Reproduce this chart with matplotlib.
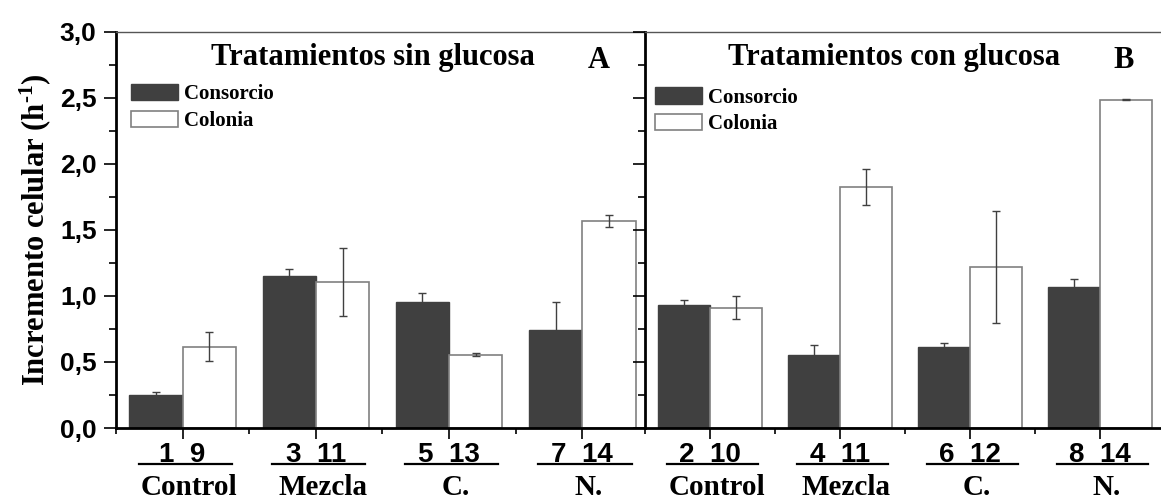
import matplotlib
matplotlib.use('Agg')
import matplotlib.pyplot as plt
import numpy as np
from matplotlib.ticker import MultipleLocator, FuncFormatter
from matplotlib.transforms import blended_transform_factory

# datos
categorias = ['Control', 'Mezcla', 'C.', 'N.']
etiquetas_a = ['1  9', '3  11', '5  13', '7  14']
etiquetas_b = ['2  10', '4  11', '6  12', '8  14']

consorcio_a = [0.25, 1.15, 0.955, 0.74]
consorcio_a_err = [0.025, 0.055, 0.065, 0.215]
colonia_a = [0.615, 1.105, 0.555, 1.565]
colonia_a_err = [0.11, 0.26, 0.01, 0.045]

consorcio_b = [0.93, 0.555, 0.61, 1.07]
consorcio_b_err = [0.04, 0.07, 0.035, 0.057]
colonia_b = [0.91, 1.825, 1.22, 2.485]
colonia_b_err = [0.085, 0.135, 0.425, 0.005]

serif = 'Liberation Serif'
sans = 'Liberation Sans'
plt.rcParams['mathtext.fontset'] = 'custom'
plt.rcParams['mathtext.rm'] = 'Liberation Serif:bold'
plt.rcParams['mathtext.it'] = 'Liberation Serif:bold'
plt.rcParams['mathtext.bf'] = 'Liberation Serif:bold'

fig = plt.figure(figsize=(11.61, 5.0), dpi=100)
W, H = 1161.0, 500.0
ax_a = fig.add_axes([116 / W, 1 - 428 / H, 529 / W, 396.5 / H])
ax_b = fig.add_axes([645 / W, 1 - 428 / H, 516 / W, 396.5 / H])

oscuro = '#404040'
ancho = 0.4


def panel(ax, cons, cons_err, col, col_err, etiquetas, titulo, letra, letra_x, titulo_x, leg_pos):
    x = np.arange(1, len(categorias) + 1)
    b1 = ax.bar(x - ancho / 2, cons, ancho, color=oscuro, edgecolor=oscuro, linewidth=1, label='Consorcio')
    b2 = ax.bar(x + ancho / 2, col, ancho, color='white', edgecolor='#808080', linewidth=1.2, label='Colonia')
    ax.errorbar(x - ancho / 2, cons, yerr=cons_err, fmt='none', ecolor=oscuro, elinewidth=1, capsize=3, capthick=1)
    ax.errorbar(x + ancho / 2, col, yerr=col_err, fmt='none', ecolor=oscuro, elinewidth=1, capsize=3, capthick=1)

    ax.set_xlim(0.5, 4.47)
    ax.set_ylim(0, 3.0)
    ax.yaxis.set_major_locator(MultipleLocator(0.5))
    ax.yaxis.set_minor_locator(MultipleLocator(0.25))
    ax.set_xticks(x)
    ax.set_xticks(x - 0.5, minor=True)
    ax.set_xticklabels(etiquetas, fontfamily=sans, fontweight='bold', fontsize=20)
    ax.tick_params(axis='x', which='major', direction='out', length=8, width=1.2, pad=2)
    ax.tick_params(axis='x', which='minor', direction='out', length=4, width=1.2)
    ax.tick_params(axis='y', which='major', direction='out', length=9, width=1.2, pad=5)
    ax.tick_params(axis='y', which='minor', direction='out', length=5, width=1.2)

    ax.spines['left'].set_linewidth(2)
    ax.spines['bottom'].set_linewidth(2)
    ax.spines['top'].set_linewidth(1)
    ax.spines['top'].set_color('#555555')
    ax.spines['right'].set_visible(False)

    ax.text(titulo_x, 2.745, titulo, fontfamily=serif, fontweight='bold', fontsize=22,
            ha='center', va='baseline')
    ax.text(letra_x, 2.723, letra, fontfamily=serif, fontweight='bold', fontsize=22,
            ha='center', va='baseline')

    trans = blended_transform_factory(ax.transData, ax.transAxes)
    for xi, nombre in zip(x, categorias):
        ax.plot([xi - 0.33, xi + 0.37], [-0.091, -0.091], color='black', lw=1.6,
                transform=trans, clip_on=False)
        ax.text(xi + 0.05, -0.169, nombre, fontfamily=serif, fontweight='bold', fontsize=21,
                ha='center', va='baseline', transform=trans)

    ax.legend(handles=[b1, b2], loc='upper left', bbox_to_anchor=leg_pos, frameon=False,
              prop={'family': serif, 'weight': 'bold', 'size': 15},
              handlelength=2.25, handleheight=0.85, handletextpad=0.3,
              labelspacing=0.3, borderpad=0, borderaxespad=0)


panel(ax_a, consorcio_a, consorcio_a_err, colonia_a, colonia_a_err, etiquetas_a,
      'Tratamientos sin glucosa', 'A', 4.12, 2.43, (0.028, 0.868))
panel(ax_b, consorcio_b, consorcio_b_err, colonia_b, colonia_b_err, etiquetas_b,
      'Tratamientos con glucosa', 'B', 4.18, 2.42, (0.019, 0.86))

ax_a.yaxis.set_major_formatter(FuncFormatter(lambda v, p: ('%.1f' % v).replace('.', ',')))
for lab in ax_a.get_yticklabels():
    lab.set_fontfamily(sans)
    lab.set_fontweight('bold')
    lab.set_fontsize(19)
ax_a.set_ylabel('Incremento celular (h$^{\\text{-}1}$)', fontfamily=serif, fontweight='bold',
                fontsize=22, labelpad=5)
ax_b.set_yticklabels([])

fig.savefig('out.png', dpi=100)
